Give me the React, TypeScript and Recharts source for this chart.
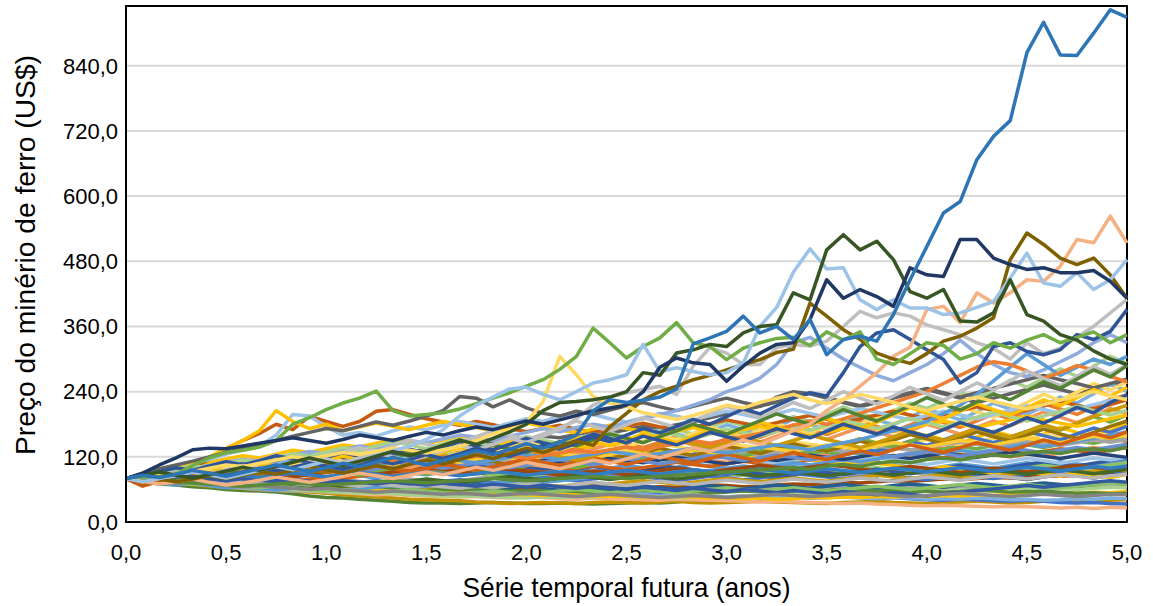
import React from "react";
import { LineChart, Line, XAxis, YAxis, CartesianGrid, Label, ReferenceArea } from "recharts";

// monthly steps over five years
const months = Array.from({ length: 61 }, (_, i) => i / 12);

const yTicks = [0, 120, 240, 360, 480, 600, 720, 840];
const xTicks = [0, 0.5, 1, 1.5, 2, 2.5, 3, 3.5, 4, 4.5, 5];

// low paths
const L1 = [80,74,70,68,65,63,60,58,57,55, 52,48,45,44,42,40,38,36,35,35, 34,35,36,35,34,34,35,34,33,34, 35,36,35,37,40,42,44,43,45,47, 48,46,49,52,50,54,57,55,58,60, 62,59,61,64,60,58,62,65,63,66, 68];
const L2 = [80,77,73,71,69,66,64,62,60,58, 57,55,53,50,48,46,44,42,41,40, 39,37,36,34,35,36,35,34,36,37, 36,35,37,38,36,35,36,37,38,37, 36,35,34,36,37,38,36,35,34,36, 37,38,37,35,36,38,39,37,38,40, 41];
const L3 = [80,78,75,73,70,68,67,64,62,60, 58,57,55,54,52,50,51,49,48,47, 46,47,45,44,46,45,43,42,44,43, 42,41,40,42,41,40,39,38,37,38, 37,36,35,34,35,33,32,31,30,31, 30,29,28,29,28,27,26,27,25,27, 26];
const L4 = [80,83,81,78,76,77,74,72,70,71, 68,66,67,64,62,60,61,58,57,59, 56,55,57,54,53,55,52,51,53,50, 49,51,50,48,49,47,46,48,47,45, 46,44,45,47,46,44,45,43,41,40, 42,41,39,38,40,38,36,35,36,34, 33];
const L5 = [80,79,76,72,70,67,64,62,60,58, 57,58,56,55,57,56,55,54,55,57, 56,58,60,59,61,63,62,60,62,64, 63,61,60,62,64,63,61,59,60,62, 61,63,65,62,60,61,63,65,64,62, 63,66,64,62,65,67,66,68,70,69, 71];
const L6 = [80,76,74,72,71,69,66,65,63,61, 60,58,56,55,53,54,52,50,49,48, 47,48,46,45,44,46,45,47,46,48, 47,45,46,44,45,47,46,48,50,49, 51,50,52,54,53,55,54,56,58,57, 59,58,60,62,61,63,62,60,62,64, 63];
const L7 = [80,78,77,74,73,71,70,68,66,65, 63,64,62,60,59,58,60,58,56,55, 54,56,55,53,54,52,51,53,52,50, 49,50,48,49,47,48,46,47,45,46, 44,45,47,46,44,43,45,44,42,43, 42,44,43,41,42,40,41,43,42,44, 43];
const L8 = [80,81,79,77,75,73,74,71,69,68, 66,67,64,62,63,60,58,59,57,55, 54,52,53,51,50,49,51,50,48,47, 48,46,45,47,46,44,45,43,44,42, 43,45,44,46,45,47,46,48,47,49, 48,50,49,51,53,52,54,53,55,54, 56];
const L9 = [80,82,80,78,79,77,75,76,74,72, 73,71,70,72,69,68,70,67,66,68, 65,64,66,63,62,64,61,60,62,63, 61,63,65,64,66,68,67,65,66,68, 70,69,71,73,72,74,76,75,77,79, 78,80,82,81,83,85,84,86,88,87, 89];
const L10 = [80,79,81,78,76,75,73,74,72,70, 69,67,68,66,64,65,63,61,62,60, 59,61,60,58,57,59,58,56,55,57, 56,58,57,55,56,54,55,57,56,58, 57,59,58,60,59,57,58,56,57,55, 56,58,57,55,56,54,55,53,54,52, 53];

// middle paths
const M1 = [80,86,83,88,95,92,98,104,99,96, 101,108,112,106,103,110,116,113,108,114, 120,117,111,106,112,118,115,122,128,124, 119,125,131,127,121,126,133,138,132,128, 135,141,136,130,126,132,139,144,140,135, 141,147,143,137,144,150,146,152,158,153, 148];
const M2 = [80,76,79,83,80,77,81,85,82,78, 75,79,84,88,85,81,86,90,87,92, 89,94,98,95,91,96,101,97,93,99, 104,100,96,101,107,103,99,95,100,105, 102,98,103,108,104,110,106,101,97,102, 107,103,99,104,109,105,111,107,103,108, 112];
const M3 = [80,84,81,78,83,87,90,86,91,95, 92,88,93,97,94,90,96,100,104,99, 95,101,106,102,98,104,110,107,113,109, 115,120,116,111,117,123,119,125,121,117, 123,128,124,130,126,132,137,133,128,134, 139,135,141,146,142,137,143,149,145,151, 156];
const M4 = [80,86,91,87,94,100,95,102,109,104, 98,105,112,107,101,108,116,110,104,112, 120,114,108,116,124,118,112,120,129,123, 117,126,135,128,122,131,141,134,127,137, 147,140,133,143,154,146,139,149,160,152, 145,156,167,159,151,162,174,165,157,168, 180];
const M5 = [80,83,88,92,89,95,100,97,93,98, 104,101,96,92,97,102,99,94,90,95, 100,106,102,97,93,89,94,90,86,91, 97,94,99,95,91,87,83,88,85,81, 86,91,88,93,89,85,90,96,92,88, 84,89,86,82,78,83,88,85,81,86, 90];
const M6 = [80,78,82,86,84,81,79,83,80,77, 74,77,80,78,75,72,75,79,76,73, 76,80,84,81,78,82,86,83,87,91, 88,85,89,93,90,86,83,87,91,88, 92,96,93,89,86,90,94,91,88,92, 96,100,97,93,97,101,98,95,99,103, 100];
const M7 = [80,84,88,85,89,94,98,103,99,104, 109,105,110,106,101,97,102,107,103,99, 104,109,114,110,105,101,106,111,116,112, 108,113,118,123,119,114,110,115,120,116, 121,126,122,117,113,118,123,119,124,129, 125,121,126,131,127,122,127,132,137,133, 138];
const M8 = [80,77,74,77,80,76,73,70,73,76, 73,70,67,70,73,76,72,69,72,75, 78,75,72,75,79,82,79,76,79,83, 86,83,80,77,80,84,81,78,81,85, 89,86,83,80,83,87,84,81,78,82, 86,83,80,84,88,92,89,86,90,94, 91];
const M9 = [80,83,86,90,93,96,92,95,99,102, 98,101,105,108,104,100,96,99,95,91, 94,90,86,89,85,88,92,89,85,82, 85,88,84,87,91,94,90,86,89,93, 97,93,89,92,96,100,96,92,95,99, 95,91,94,98,102,106,102,98,101,105, 109];
const M10 = [80,86,92,97,103,99,105,111,107,113, 109,115,121,116,112,118,114,110,106,102, 107,103,99,95,100,96,92,97,102,98, 94,99,104,100,96,92,88,93,89,85, 90,95,91,87,92,97,93,89,94,99, 104,100,96,101,106,111,107,103,108,113, 118];
const M11 = [80,74,71,75,72,69,73,77,74,71, 75,79,83,80,84,88,85,89,93,90, 86,90,94,98,95,91,95,99,104,100, 96,100,105,110,106,102,107,112,108,104, 109,114,119,115,111,116,121,126,122,118, 123,128,124,120,125,130,135,131,127,132, 137];
const M12 = [80,82,79,76,79,76,73,71,74,71, 68,71,69,66,69,72,69,66,64,67, 70,67,65,68,71,68,66,69,72,70, 73,76,73,70,73,77,80,77,74,78, 81,78,75,79,82,86,83,80,84,87, 84,81,85,88,92,89,86,90,93,97, 94];
const M13 = [80,87,93,100,96,103,110,106,113,119, 115,122,118,125,131,127,121,127,133,129, 124,130,126,132,138,134,129,135,131,126, 132,138,144,139,134,140,146,141,136,142, 148,143,138,144,150,145,140,146,152,147, 142,148,154,149,155,161,156,151,157,163, 158];
const M14 = [80,85,90,95,91,96,101,97,102,107, 103,108,113,109,104,109,114,110,105,101, 106,111,107,112,117,113,108,113,118,114, 110,115,120,116,111,116,121,117,112,108, 113,118,114,109,114,119,115,110,106,111, 116,112,107,112,117,113,108,113,118,114, 119];

// upper paths
const U1 = [80,66,75,88,100,115,135,150,163,180, 170,195,185,176,185,204,207,198,190,184, 178,185,179,172,166,172,178,171,165,170, 176,182,175,169,175,181,188,182,176,183, 190,196,189,183,190,197,204,197,190,198, 205,212,205,198,206,214,222,215,208,216, 225];
const U2 = [80,88,95,100,108,115,125,132,140,160, 198,195,175,160,165,158,168,175,170,178, 185,180,174,182,190,185,195,203,198,190, 184,192,200,195,188,196,204,198,191,199, 207,200,193,201,209,202,195,188,196,204, 197,190,198,206,214,207,200,208,216,224, 232];
const U3 = [80,85,92,100,110,120,135,150,168,205, 185,172,180,168,175,182,176,170,178,185, 180,174,168,175,182,176,170,164,171,178, 172,166,160,167,174,168,162,169,176,170, 164,158,165,172,178,172,166,173,180,186, 180,174,181,188,195,188,182,176,183,190, 197];
const U4 = [80,90,98,105,112,120,128,135,142,150, 158,165,172,168,176,184,178,186,195,205, 231,228,212,225,210,200,195,204,198,206, 214,220,212,205,213,221,228,220,213,221, 229,237,229,221,214,222,230,238,246,238, 230,238,246,254,262,270,262,255,247,255, 263];
const U5 = [80,84,90,95,100,104,110,115,112,118, 124,130,126,133,140,136,143,150,146,153, 160,156,150,158,165,172,166,174,180,175, 183,190,198,205,215,225,240,250,265,290, 330,340,320,300,285,270,260,275,290,310, 335,310,290,275,268,280,295,310,330,345, 330];
const U6 = [80,86,91,97,104,99,107,114,109,118, 126,121,129,137,131,140,148,142,135,144, 152,146,139,148,157,151,144,153,162,156, 149,158,167,160,153,162,171,165,158,167, 176,169,178,187,180,172,181,190,183,175, 184,193,202,194,186,195,204,213,205,197, 206];
const U7 = [80,78,83,88,85,90,95,92,97,102, 99,104,100,96,101,106,111,107,112,117, 113,109,114,119,124,120,115,120,125,130, 126,121,126,131,136,131,127,132,137,142, 138,133,140,146,152,160,168,176,185,200, 215,235,260,285,310,290,270,285,300,290, 305];
const U8 = [80,82,85,88,86,90,94,91,95,99, 96,100,104,108,104,109,114,110,115,120, 116,121,126,122,117,122,127,132,128,133, 138,134,139,144,150,145,151,157,163,170, 178,186,180,190,200,210,220,230,240,255, 270,285,295,290,278,265,275,288,280,268, 258];
const U9 = [80,84,92,99,94,103,111,105,114,123, 116,110,119,128,137,130,140,151,143,136, 146,157,168,160,151,162,174,186,176,167, 179,192,183,174,186,199,213,202,192,206, 220,209,224,240,228,217,232,248,236,224, 240,256,243,260,278,264,251,268,286,272, 290];
const U10 = [80,83,79,86,92,99,94,101,108,103, 97,105,113,121,115,123,132,125,119,128, 137,130,140,150,143,135,145,156,148,140, 151,162,154,146,157,169,161,172,184,175, 166,178,191,181,172,184,197,211,200,190, 204,218,207,197,210,225,214,229,244,232, 248];
const U11 = [80,86,81,76,82,88,95,90,97,104, 99,94,101,109,116,110,118,127,121,115, 124,133,142,135,128,138,148,140,151,162, 154,146,157,168,180,171,162,174,186,199, 189,180,193,207,196,186,200,214,229,217, 206,221,236,225,241,258,246,263,280,267, 288];
const U12 = [80,87,93,100,95,103,111,105,113,122, 116,110,119,128,121,115,124,134,127,137, 148,140,133,143,154,146,139,150,162,154, 146,158,150,142,153,165,157,149,160,172, 163,155,167,180,171,162,175,166,158,170, 183,174,165,178,192,182,196,211,201,220, 234];

// more of the crowded band
const B1 = [80,84,88,84,89,95,90,86,92,98, 104,99,94,100,107,102,97,104,111,118, 112,106,113,121,115,109,117,125,119,113, 121,130,124,117,125,134,127,121,130,139, 132,125,134,144,137,130,139,149,141,151, 162,154,146,156,167,159,151,162,173,165, 176];
const B2 = [80,85,79,84,90,97,92,99,106,100, 94,101,109,117,110,104,112,121,114,108, 116,125,134,127,120,129,139,132,142,152, 144,137,147,158,150,142,153,164,156,167, 179,170,161,173,185,176,167,179,192,183, 174,186,199,190,204,218,208,198,212,226, 234];
const B3 = [80,83,87,84,80,84,88,92,89,85, 89,93,97,101,97,93,97,101,105,109, 105,110,115,111,107,112,117,122,118,114, 119,124,129,125,121,126,131,127,123,128, 133,138,134,130,135,140,136,132,137,142, 147,143,139,144,149,145,141,146,151,147, 152];
const B4 = [80,86,92,98,104,110,116,122,118,125, 132,128,135,142,138,145,152,148,144,151, 158,154,150,146,152,148,144,140,136,142, 138,134,130,126,132,128,124,120,116,122, 118,114,110,106,112,108,104,100,96,102, 98,94,90,96,92,88,84,90,86,82, 88];
const B5 = [80,76,72,68,71,67,63,66,62,59, 62,65,61,58,61,64,67,63,66,69, 72,68,71,74,77,73,76,79,83,87, 83,87,91,95,91,95,99,103,99,104, 109,105,110,115,111,116,121,126,122,127, 132,128,133,138,143,139,144,149,154,160, 166];
const B6 = [80,76,80,85,81,77,82,87,93,88, 84,90,96,91,86,92,98,93,88,94, 101,96,91,97,104,111,105,100,107,114, 108,116,124,117,111,119,127,121,130,139, 132,125,134,143,153,145,138,148,158,150, 161,172,163,155,166,178,169,181,194,184, 197];
const B7 = [80,84,88,92,96,100,104,108,112,116, 121,117,113,118,123,119,115,120,125,121, 117,113,118,123,119,115,111,116,121,117, 113,109,114,119,115,111,107,112,117,113, 118,123,119,115,120,125,121,117,122,127, 123,119,124,129,125,121,117,122,127,123, 119];
const B8 = [80,77,81,85,82,78,82,86,90,87, 83,87,91,95,92,88,92,96,100,97, 93,89,93,97,94,90,86,90,94,91, 87,91,95,99,96,92,96,100,104,101, 97,101,105,102,98,94,98,102,99,95, 91,95,99,96,92,96,100,104,101,97, 101];
const B9 = [80,86,83,89,95,92,98,104,101,107, 113,110,116,122,119,125,131,128,134,140, 137,143,149,146,152,158,155,161,167,164, 170,176,173,179,185,192,199,206,213,230, 240,236,228,220,212,220,228,236,244,236, 228,220,228,236,244,252,244,236,244,252, 260];
const B10 = [80,77,83,79,85,91,87,82,88,94, 101,96,91,98,105,100,107,114,108,103, 110,117,111,105,113,121,115,109,117,125, 119,127,136,129,122,131,140,133,126,135, 144,137,130,139,149,141,151,161,153,145, 155,166,157,149,160,171,162,154,165,176, 186];
const B11 = [80,83,79,76,80,83,79,76,73,77, 74,71,75,72,69,73,70,67,71,68, 65,69,66,63,67,64,61,65,62,59, 63,66,63,60,64,67,64,61,65,68, 65,62,66,69,66,63,67,70,67,64, 68,71,68,65,69,72,69,66,70,73, 70];
const B12 = [80,84,80,76,73,77,74,70,67,71, 68,65,69,66,70,74,71,75,79,76, 72,76,80,84,81,77,81,85,82,78, 82,86,83,79,83,87,91,88,84,88, 92,89,85,89,93,90,86,90,94,91, 87,91,95,92,88,92,96,93,89,93, 97];
const B13 = [80,84,89,85,90,95,91,96,101,97, 92,97,102,98,93,98,103,108,104,99, 104,109,105,100,105,110,115,111,106,111, 116,112,107,112,117,122,118,113,118,123, 119,114,119,124,129,125,120,125,130,126, 121,126,131,136,132,127,132,137,133,138, 143];
const B14 = [80,84,80,87,93,89,84,91,98,94, 101,108,103,97,104,112,106,100,108,116, 110,118,127,120,114,123,132,125,134,144, 137,130,140,150,142,135,145,155,147,158, 169,161,152,163,174,165,157,168,180,171, 162,174,186,177,190,203,193,183,196,209, 200];
const B15 = [80,77,74,78,75,72,76,73,70,74, 71,68,72,69,66,70,67,64,68,65, 62,66,63,67,71,68,65,69,73,70, 67,71,75,72,69,73,77,74,71,75, 79,76,73,77,81,78,75,79,83,80, 77,81,85,82,79,83,87,84,81,85, 88];
const B16 = [80,86,82,88,94,90,96,102,98,104, 110,106,102,108,114,110,106,112,118,114, 110,116,122,118,114,120,126,122,118,124, 130,126,122,128,134,130,126,132,138,134, 130,136,142,138,134,140,146,142,138,144, 150,146,142,148,154,150,146,152,158,154, 160];
const B17 = [80,86,92,88,95,102,110,104,99,107, 115,124,117,111,120,130,123,117,126,136, 147,139,132,143,154,146,139,150,162,154, 146,158,171,162,154,166,179,170,162,175, 189,179,170,184,198,188,179,193,208,198, 188,203,219,208,198,213,230,219,236,254, 241];
const B18 = [80,78,75,72,69,72,69,66,63,66, 63,60,57,60,57,54,57,60,57,54, 51,54,57,54,51,54,57,60,57,54, 57,60,57,54,57,60,63,60,57,60, 63,60,57,60,63,66,63,60,63,66, 69,66,63,66,69,66,63,66,69,72, 69];
const B19 = [80,84,81,78,82,79,76,80,77,74, 78,75,72,76,73,70,74,71,68,72, 69,66,70,67,64,68,65,62,66,63, 60,64,61,58,62,59,56,60,57,54, 58,55,52,56,53,50,54,51,48,52, 55,58,61,64,67,64,67,70,73,76, 73];
const B20 = [80,84,89,85,80,86,92,87,82,88, 94,100,95,90,96,103,98,93,99,106, 101,96,102,109,116,110,104,111,118,112, 106,113,121,115,109,117,125,118,112,120, 128,121,115,123,131,124,133,142,135,128, 137,146,139,132,141,151,143,153,163,155, 166];
const B21 = [80,77,74,71,73,70,67,65,67,64, 62,60,62,59,57,55,57,55,53,51, 53,51,49,51,53,51,49,47,49,51, 49,47,45,47,49,47,45,47,49,51, 49,47,49,51,53,51,49,47,49,51, 53,51,49,47,49,51,49,47,49,51, 50];
const B22 = [80,86,83,91,97,93,88,95,103,99, 108,104,97,102,111,118,112,106,114,121, 129,122,116,125,133,127,120,114,122,131, 139,132,143,151,144,137,146,156,148,141, 150,160,152,145,137,146,156,167,158,150, 161,172,164,156,167,179,170,182,194,205, 215];
const B23 = [80,84,88,85,81,85,89,86,82,86, 90,87,83,87,91,88,84,88,92,89, 85,89,93,90,86,90,94,91,87,91, 95,92,88,92,96,93,89,93,97,94, 90,94,98,95,91,95,99,96,92,96, 100,97,93,97,101,98,94,98,102,99, 103];
const B24 = [80,78,76,74,72,70,68,66,68,70, 72,70,68,70,72,74,76,74,72,74, 76,78,80,78,76,78,80,82,84,82, 80,82,84,86,88,90,92,94,96,98, 100,97,103,106,102,108,112,109,115,118, 114,120,124,121,127,130,126,132,135,131, 138];
const B25 = [80,85,91,87,82,89,96,103,97,92, 99,107,114,108,117,125,119,112,121,130, 123,133,142,135,128,138,148,141,153,164, 156,147,159,170,162,174,186,178,168,181, 194,185,198,212,201,190,204,219,209,224, 239,228,244,261,248,265,282,268,287,305, 292];
const B26 = [80,77,84,90,97,92,99,106,101,96, 103,111,118,112,106,114,123,131,124,118, 127,136,129,138,148,141,133,143,154,146, 138,149,160,152,163,175,166,157,169,181, 172,164,176,189,180,193,206,196,186,199, 213,203,193,206,220,235,224,239,255,243, 258];

// the paths that break out of the band
const grayUp = [80,85,79,86,93,88,96,104,98,92, 100,108,116,109,118,127,120,113,122,131, 141,133,143,154,146,158,170,190,215,230, 238,244,250,235,287,321,311,290,290,321, 327,324,333,360,388,376,385,379,363,354, 345,330,320,300,330,310,320,340,360,385, 410];
const blueMid = [80,76,82,88,84,79,85,92,99,94, 101,108,103,97,105,113,107,115,124,117, 126,136,128,121,131,141,134,145,156,148, 160,172,164,176,189,180,194,208,199,214, 228,238,232,275,323,348,354,336,317,299, 256,275,323,330,314,308,317,345,336,351, 391];
const peach = [80,75,70,74,79,73,68,72,77,83, 78,73,78,84,90,85,80,86,92,87, 94,101,95,102,110,104,98,106,114,108, 116,125,118,127,137,130,140,151,143,155, 168,180,205,225,250,275,305,322,391,397, 367,422,403,422,446,443,471,520,514,563, 514];
const olive = [80,84,79,74,79,85,80,86,93,88, 95,102,96,90,97,104,98,106,114,107, 115,124,117,126,136,128,138,149,141,175, 200,225,240,250,262,270,280,290,299,312, 318,403,379,354,336,311,300,292,310,333, 342,357,376,483,532,511,486,474,486,455, 412];
const yellow = [80,84,90,87,93,99,105,102,108,114, 120,116,122,128,124,130,136,132,127,133, 139,150,162,170,183,222,305,271,231,219, 213,201,195,189,196,205,215,210,220,228, 235,225,218,226,235,228,220,212,205,214, 222,230,222,215,208,216,224,232,240,232, 225];
const green = [80,82,84,88,104,118,128,132,138,150, 180,192,207,219,228,241,205,195,198,201, 208,218,228,238,250,262,281,305,357,330, 302,323,339,367,330,323,299,320,330,338, 340,325,350,335,350,300,290,310,330,325, 300,310,330,320,335,345,330,340,350,330, 345];
const lightBlue = [80,74,80,86,92,87,81,88,95,102, 96,104,112,105,113,122,131,140,152,170, 195,215,230,245,248,235,225,240,256,262, 271,327,277,284,277,271,275,293,360,395, 460,503,466,468,409,391,409,394,394,382, 385,395,406,449,495,440,434,459,428,446, 483];
const darkGreen = [80,86,92,86,81,87,94,101,95,102, 110,118,111,104,112,121,130,122,131,141, 151,143,154,166,180,205,220,222,225,230, 240,275,270,311,317,327,323,348,360,363, 422,409,501,529,501,517,483,424,412,428, 370,368,385,446,382,370,345,335,315,300, 290];
const navy = [80,90,105,118,133,136,135,140,145,150, 155,150,145,152,160,155,150,158,165,160, 168,175,170,178,186,180,188,196,205,210, 215,240,285,302,293,290,259,287,311,327, 330,373,446,412,428,415,397,468,455,452, 520,520,486,474,465,468,459,459,463,443, 412];
const topBlue = [80,86,82,88,95,90,84,91,98,105, 99,93,100,108,102,110,119,112,105,113, 122,131,124,134,144,136,147,160,205,225, 220,224,230,245,328,339,351,379,348,360, 336,373,308,336,342,333,382,446,507,569, 590,667,710,739,864,920,860,859,900,943, 929];

const series = [
  L1, L2, L3, L4, L5, L6, L7, L8, L9, L10,
  M1, M2, M3, M4, M5, M6, M7, M8, M9, M10, M11, M12, M13, M14,
  B1, B2, B3, B4, B5, B6, B7, B8, B9, B10, B11, B12, B13,
  B14, B15, B16, B17, B18, B19, B20, B21, B22, B23, B24, B25, B26,
  U1, U2, U3, U4, U5, U6, U7, U8, U9, U10, U11, U12,
  grayUp, blueMid, peach, olive, yellow, green, lightBlue, darkGreen, navy, topBlue,
];

const colors = [
  "#548235", "#BF9000", "#F4B183", "#4472C4", "#A5A5A5", "#A9D18E", "#7CAFDD", "#FFC000", "#9E480E", "#5A8A39",
  "#ED7D31", "#5B9BD5", "#70AD47", "#FFC000", "#264478", "#A5A5A5", "#F1975A", "#4472C4", "#8CC168", "#335AA1", "#D26012", "#CC9A00", "#FFD966", "#9DC3E6",
  "#4472C4", "#ED7D31", "#A5A5A5", "#FFC000", "#5B9BD5", "#70AD47", "#264478", "#9E480E", "#636363", "#997300", "#255E91", "#43682B", "#698ED0",
  "#F1975A", "#B7B7B7", "#FFCD33", "#7CAFDD", "#8CC168", "#335AA1", "#D26012", "#848484", "#CC9A00", "#327DC2", "#5A8A39", "#A9D18E", "#FFD966",
  "#C55A11", "#9DC3E6", "#FFC000", "#636363", "#8FAADC", "#A9D18E", "#5B9BD5", "#ED7D31", "#BFBFBF", "#FFC000", "#548235", "#2F5597",
  "#BFBFBF", "#2F5597", "#F4B183", "#7F6000", "#FFD966", "#70AD47", "#9DC3E6", "#375623", "#203864", "#2E75B6",
];

const data = months.map((t, i) => {
  const row: Record<string, number> = { t };
  series.forEach((s, k) => {
    row[`s${k}`] = s[i];
  });
  return row;
});

const font = "'Liberation Sans', Arial, sans-serif";
const fmt = (v: number) => v.toFixed(1).replace(".", ",");
const frame = { stroke: "#000", strokeWidth: 2 };

const YTitle = (props: any) => {
  const vb = props.viewBox;
  const cx = vb.x + 35;
  const cy = vb.y + vb.height / 2 - 9;
  return (
    <text
      x={cx}
      y={cy}
      transform={`rotate(-90, ${cx}, ${cy})`}
      textAnchor="middle"
      fontFamily={font}
      fontSize={28}
      textLength={400}
      lengthAdjust="spacingAndGlyphs"
      fill="#000"
    >
      Preço do minério de ferro (US$)
    </text>
  );
};

const XTitle = (props: any) => {
  const vb = props.viewBox;
  return (
    <text
      x={vb.x + vb.width / 2}
      y={597}
      textAnchor="middle"
      fontFamily={font}
      fontSize={28}
      textLength={328}
      lengthAdjust="spacingAndGlyphs"
      fill="#000"
    >
      Série temporal futura (anos)
    </text>
  );
};

export default function App() {
  return (
    <div style={{ position: "absolute", left: 0, top: 0, background: "#fff" }}>
      <LineChart
        width={1153}
        height={606}
        data={data}
        margin={{ top: 6, right: 26, bottom: 0, left: 0 }}
      >
        <CartesianGrid vertical={false} stroke="#D9D9D9" strokeWidth={2} />
        <XAxis
          dataKey="t"
          type="number"
          domain={[0, 5]}
          ticks={xTicks}
          interval={0}
          tickFormatter={fmt}
          tickLine={false}
          tickMargin={16}
          axisLine={frame}
          height={84}
          tick={{ fontFamily: font, fontSize: 22, fill: "#000" }}
        >
          <Label content={XTitle} />
        </XAxis>
        <YAxis
          domain={[0, 950]}
          ticks={yTicks}
          interval={0}
          tickFormatter={fmt}
          tickLine={false}
          axisLine={frame}
          width={126}
          tick={{ fontFamily: font, fontSize: 22, fill: "#000" }}
        >
          <Label content={YTitle} />
        </YAxis>
        {series.map((_, k) => (
          <Line
            key={k}
            dataKey={`s${k}`}
            type="linear"
            stroke={colors[k]}
            strokeWidth={3.5}
            strokeLinejoin="round"
            dot={false}
            activeDot={false}
            isAnimationActive={false}
          />
        ))}
        <ReferenceArea x1={0} x2={5} y1={0} y2={950} fill="none" stroke="#000" strokeWidth={2} />
      </LineChart>
    </div>
  );
}
